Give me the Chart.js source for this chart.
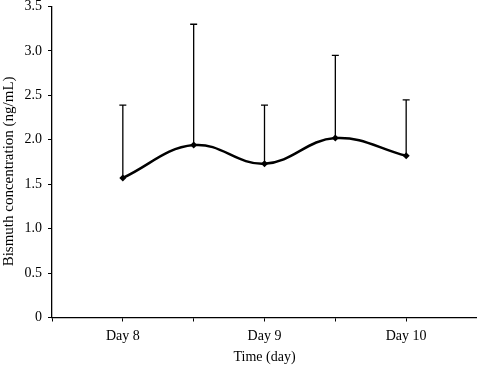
<!DOCTYPE html>
<html>
<head>
<meta charset="utf-8">
<script src="https://cdn.jsdelivr.net/npm/chart.js@4/dist/chart.umd.min.js"></script>
<style>
  html, body { margin: 0; padding: 0; background: #fff; }
  #wrap { width: 477px; height: 366px; }
</style>
</head>
<body>
<div id="wrap"><canvas id="chart"></canvas></div>
<script>
// Positions on the time axis (Day 8 at 1, Day 9 at 3, Day 10 at 5)
const xPositions = [1, 2, 3, 4, 5];
const meanValues = [1.57, 1.94, 1.73, 2.02, 1.82];
const upperErrors = [2.39, 3.30, 2.39, 2.95, 2.45];
const xTickLabels = { 1: 'Day 8', 3: 'Day 9', 5: 'Day 10' };
const yTicks = [0, 0.5, 1.0, 1.5, 2.0, 2.5, 3.0, 3.5];

const serif = 'Liberation Serif, Times New Roman, serif';

// draws the upper error bars with a small cap
const errorBars = {
    id: 'errorBars',
    afterDatasetsDraw(chart) {
        const ctx = chart.ctx;
        const xs = chart.scales.x;
        const ys = chart.scales.y;
        ctx.save();
        ctx.strokeStyle = '#000';
        ctx.lineWidth = 1.3;
        xPositions.forEach((xv, i) => {
            const px = xs.getPixelForValue(xv);
            const y0 = ys.getPixelForValue(meanValues[i]);
            const y1 = ys.getPixelForValue(upperErrors[i]);
            ctx.beginPath();
            ctx.moveTo(px, y0);
            ctx.lineTo(px, y1);
            ctx.moveTo(px - 3.5, y1);
            ctx.lineTo(px + 3.5, y1);
            ctx.stroke();
        });
        ctx.restore();
    }
};

new Chart(document.getElementById('chart').getContext('2d'), {
    type: 'line',
    data: {
        datasets: [{
            data: xPositions.map((x, i) => ({ x: x, y: meanValues[i] })),
            borderColor: '#000',
            backgroundColor: '#000',
            borderWidth: 2.5,
            tension: 0.4,
            pointStyle: 'rectRot',
            pointRadius: 3.5,
            pointBackgroundColor: '#000',
            pointBorderWidth: 0
        }]
    },
    options: {
        responsive: true,
        maintainAspectRatio: false,
        animation: false,
        layout: { autoPadding: false, padding: { top: 6.5, right: 0, left: 0, bottom: 0 } },
        plugins: {
            legend: { display: false },
            tooltip: { enabled: false }
        },
        scales: {
            x: {
                type: 'linear',
                min: 0,
                max: 6,
                afterFit: function(scale) {
                    scale.height = 48.5;
                    scale.paddingLeft = 0;
                    scale.paddingRight = 0;
                },
                afterBuildTicks: function(scale) {
                    scale.ticks = [0, 1, 2, 3, 4, 5, 6].map(v => ({ value: v }));
                },
                ticks: {
                    color: '#000',
                    font: { family: serif, size: 14 },
                    padding: 6,
                    maxRotation: 0,
                    autoSkip: false,
                    callback: function(value) { return xTickLabels[value] || ''; }
                },
                grid: { display: true, drawOnChartArea: false, drawTicks: true, tickLength: 4, color: '#000' },
                border: { display: true, color: '#000', width: 1.3 },
                title: {
                    display: true,
                    text: 'Time (day)',
                    color: '#000',
                    font: { family: serif, size: 14 },
                    padding: { top: 2, bottom: 0 }
                }
            },
            y: {
                min: 0,
                max: 3.5,
                afterFit: function(scale) {
                    scale.width = 52;
                    scale.paddingTop = 0;
                    scale.paddingBottom = 0;
                },
                afterBuildTicks: function(scale) {
                    scale.ticks = yTicks.map(v => ({ value: v }));
                },
                ticks: {
                    color: '#000',
                    font: { family: serif, size: 14 },
                    padding: 6,
                    callback: function(value) { return value === 0 ? '0' : value.toFixed(1); }
                },
                grid: { display: true, drawOnChartArea: false, drawTicks: true, tickLength: 4, color: '#000' },
                border: { display: true, color: '#000', width: 1.3 },
                title: {
                    display: true,
                    text: 'Bismuth concentration (ng/mL)     ',
                    color: '#000',
                    font: { family: serif, size: 15 },
                    padding: { top: 0, bottom: 0 }
                }
            }
        }
    },
    plugins: [errorBars]
});
</script>
</body>
</html>
